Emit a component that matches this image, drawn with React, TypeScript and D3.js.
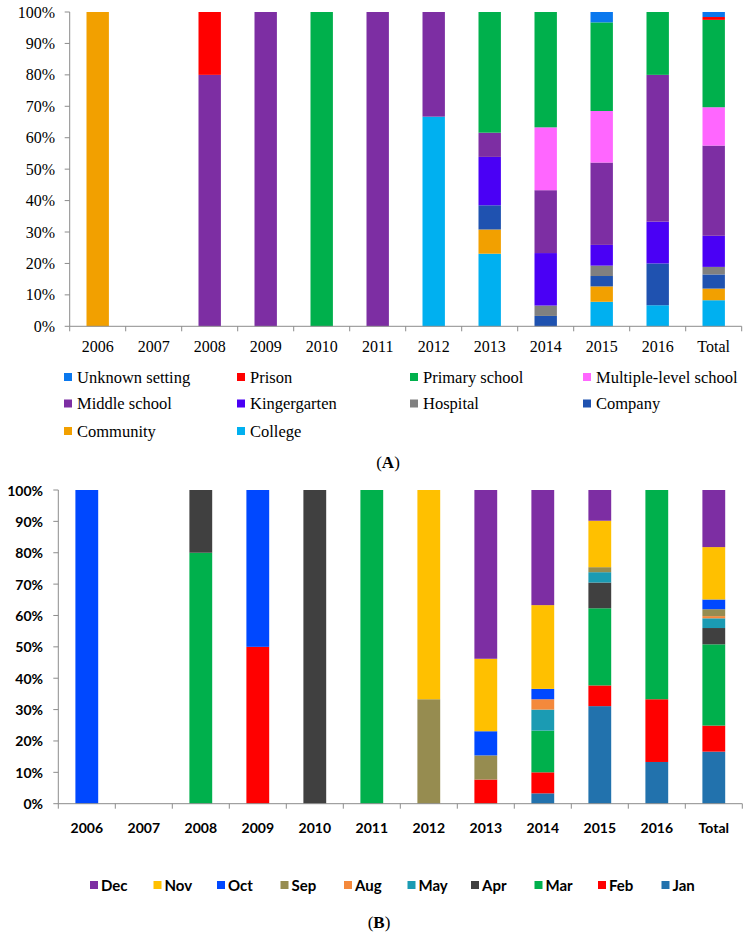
import * as d3 from "d3";

const years = ["2006", "2007", "2008", "2009", "2010", "2011", "2012", "2013", "2014", "2015", "2016", "Total"];
const pctTicks = [0, 10, 20, 30, 40, 50, 60, 70, 80, 90, 100];

// (A) setting, percent per year, bottom to top
const college = [0, 0, 0, 0, 0, 0, 66.7, 23.1, 0, 7.8, 6.7, 8.3];
const community = [100, 0, 0, 0, 0, 0, 0, 7.7, 0, 4.9, 0, 3.7];
const company = [0, 0, 0, 0, 0, 0, 0, 7.7, 3.3, 3.3, 13.3, 4.5];
const hospital = [0, 0, 0, 0, 0, 0, 0, 0, 3.3, 3.3, 0, 2.4];
const kindergarten = [0, 0, 0, 0, 0, 0, 0, 15.4, 16.7, 6.6, 13.3, 9.9];
const middleSchool = [0, 0, 80, 100, 0, 100, 33.3, 7.7, 20, 26.2, 46.7, 28.7];
const multipleLevel = [0, 0, 0, 0, 0, 0, 0, 0, 20, 16.4, 0, 12.2];
const primarySchool = [0, 0, 0, 0, 100, 0, 0, 38.5, 36.7, 28.2, 20, 27.8];
const prison = [0, 0, 20, 0, 0, 0, 0, 0, 0, 0, 0, 0.9];
const unknownSetting = [0, 0, 0, 0, 0, 0, 0, 0, 0, 3.3, 0, 1.6];

// (B) month, percent per year, bottom to top
const jan = [0, 0, 0, 0, 0, 0, 0, 0, 3.3, 31.1, 13.3, 16.6];
const feb = [0, 0, 0, 50, 0, 0, 0, 7.7, 6.7, 6.6, 20, 8.3];
const mar = [0, 0, 80, 0, 0, 100, 0, 0, 13.3, 24.6, 66.7, 25.9];
const apr = [0, 0, 20, 0, 100, 0, 0, 0, 0, 8.2, 0, 5.2];
const may = [0, 0, 0, 0, 0, 0, 0, 0, 6.7, 3.3, 0, 3.1];
const aug = [0, 0, 0, 0, 0, 0, 0, 0, 3.3, 0, 0, 0.7];
const sep = [0, 0, 0, 0, 0, 0, 33.3, 7.7, 0, 1.6, 0, 2.2];
const oct = [100, 0, 0, 50, 0, 0, 0, 7.7, 3.3, 0, 0, 3.1];
const nov = [0, 0, 0, 0, 0, 0, 66.7, 23.1, 26.7, 14.8, 0, 16.7];
const dec = [0, 0, 0, 0, 0, 0, 0, 53.8, 36.7, 9.8, 0, 18.2];

type Series = { name: string; values: number[]; color: string };

const seriesA: Series[] = [
  { name: "College", values: college, color: "#00b0f0" },
  { name: "Community", values: community, color: "#f2a000" },
  { name: "Company", values: company, color: "#1f52b0" },
  { name: "Hospital", values: hospital, color: "#808080" },
  { name: "Kingergarten", values: kindergarten, color: "#4a00f5" },
  { name: "Middle school", values: middleSchool, color: "#7d2ea3" },
  { name: "Multiple-level school", values: multipleLevel, color: "#ff66ff" },
  { name: "Primary school", values: primarySchool, color: "#00b04c" },
  { name: "Prison", values: prison, color: "#ff0000" },
  { name: "Unknown setting", values: unknownSetting, color: "#0a78ee" },
];

const seriesB: Series[] = [
  { name: "Jan", values: jan, color: "#2272ad" },
  { name: "Feb", values: feb, color: "#ff0000" },
  { name: "Mar", values: mar, color: "#00b04c" },
  { name: "Apr", values: apr, color: "#404040" },
  { name: "May", values: may, color: "#1b9bb3" },
  { name: "Aug", values: aug, color: "#f4893c" },
  { name: "Sep", values: sep, color: "#968c50" },
  { name: "Oct", values: oct, color: "#0048ff" },
  { name: "Nov", values: nov, color: "#ffc000" },
  { name: "Dec", values: dec, color: "#7d2ea3" },
];

const AXIS = "#8c8c8c";

type PanelProps = {
  series: Series[];
  left: number;
  right: number;
  top: number;
  bottom: number;
  font: string;
  weight: string | number;
  size: number;
  yLabelX: number;
  xLabelY: number;
};

const Panel = ({ series, left, right, top, bottom, font, weight, size, yLabelX, xLabelY }: PanelProps) => {
  const x = d3.scaleBand<string>().domain(years).range([left, right]).paddingInner(0.6).paddingOuter(0.3);
  const y = d3.scaleLinear().domain([0, 100]).range([bottom, top]);
  const step = x.step();

  const rows = years.map((yr, i) => {
    const r: Record<string, number | string> = { year: yr };
    series.forEach((s) => (r[s.name] = s.values[i]));
    return r;
  });
  const stack = d3.stack<Record<string, number | string>>().keys(series.map((s) => s.name));
  const layers = stack(rows as any);

  return (
    <g>
      {layers.map((layer, li) => (
        <g key={layer.key} fill={series[li].color}>
          {layer.map((d, i) =>
            d[1] - d[0] > 0 ? (
              <rect
                key={i}
                x={x(years[i])}
                width={x.bandwidth()}
                y={y(Math.min(d[1], 100))}
                height={y(d[0]) - y(Math.min(d[1], 100))}
              />
            ) : null
          )}
        </g>
      ))}
      <line x1={left} x2={left} y1={top} y2={bottom} stroke={AXIS} strokeWidth={1} />
      <line x1={left} x2={right} y1={bottom} y2={bottom} stroke={AXIS} strokeWidth={1} />
      {pctTicks.map((t) => (
        <g key={t}>
          <line x1={left - 5} x2={left} y1={y(t)} y2={y(t)} stroke={AXIS} />
          <text
            x={yLabelX}
            y={y(t)}
            textAnchor="end"
            dominantBaseline="central"
            fontFamily={font}
            fontWeight={weight}
            fontSize={size}
          >
            {t}%
          </text>
        </g>
      ))}
      {d3.range(years.length + 1).map((i) => (
        <line key={i} x1={left + i * step} x2={left + i * step} y1={bottom} y2={bottom + 5} stroke={AXIS} />
      ))}
      {years.map((yr) => (
        <text
          key={yr}
          x={(x(yr) ?? 0) + x.bandwidth() / 2}
          y={xLabelY}
          textAnchor="middle"
          dominantBaseline="central"
          fontFamily={font}
          fontWeight={weight}
          fontSize={size}
        >
          {yr}
        </text>
      ))}
    </g>
  );
};

const serif = "'Liberation Serif', 'Times New Roman', serif";
const sans = "Lato, 'Open Sans', sans-serif";

const legendA = [...seriesA].reverse();
const legendACols = [64, 237, 410, 583];
const legendARows = [377, 403.5, 431];
const legendB = [...seriesB].reverse();

export default function App() {
  return (
    <svg
      width={749}
      height={941}
      style={{ position: "absolute", left: 0, top: 0, background: "#fff" }}
    >
      <Panel
        series={seriesA}
        left={69.7}
        right={741.7}
        top={12}
        bottom={326.3}
        font={serif}
        weight="normal"
        size={16}
        yLabelX={55}
        xLabelY={346}
      />
      {legendA.map((s, i) => {
        const cx = legendACols[i % 4];
        const cy = legendARows[Math.floor(i / 4)];
        return (
          <g key={s.name}>
            <rect x={cx} y={cy - 4} width={8} height={8} fill={s.color} />
            <text x={cx + 13} y={cy} dominantBaseline="central" fontFamily={serif} fontSize={16.5}>
              {s.name}
            </text>
          </g>
        );
      })}
      <text x={388} y={462} textAnchor="middle" dominantBaseline="central" fontFamily={serif} fontSize={17}>
        (<tspan fontWeight="bold">A</tspan>)
      </text>

      <Panel
        series={seriesB}
        left={58.3}
        right={742.3}
        top={490}
        bottom={803.7}
        font={sans}
        weight="bold"
        size={14}
        yLabelX={43}
        xLabelY={827}
      />
      {legendB.map((s, i) => {
        const lx = 90 + i * 63.5;
        return (
          <g key={s.name}>
            <rect x={lx} y={881} width={8} height={8} fill={s.color} />
            <text x={lx + 11} y={885} dominantBaseline="central" fontFamily={sans} fontWeight="bold" fontSize={15}>
              {s.name}
            </text>
          </g>
        );
      })}
      <text x={379} y={922} textAnchor="middle" dominantBaseline="central" fontFamily={serif} fontSize={17}>
        (<tspan fontWeight="bold">B</tspan>)
      </text>
    </svg>
  );
}
